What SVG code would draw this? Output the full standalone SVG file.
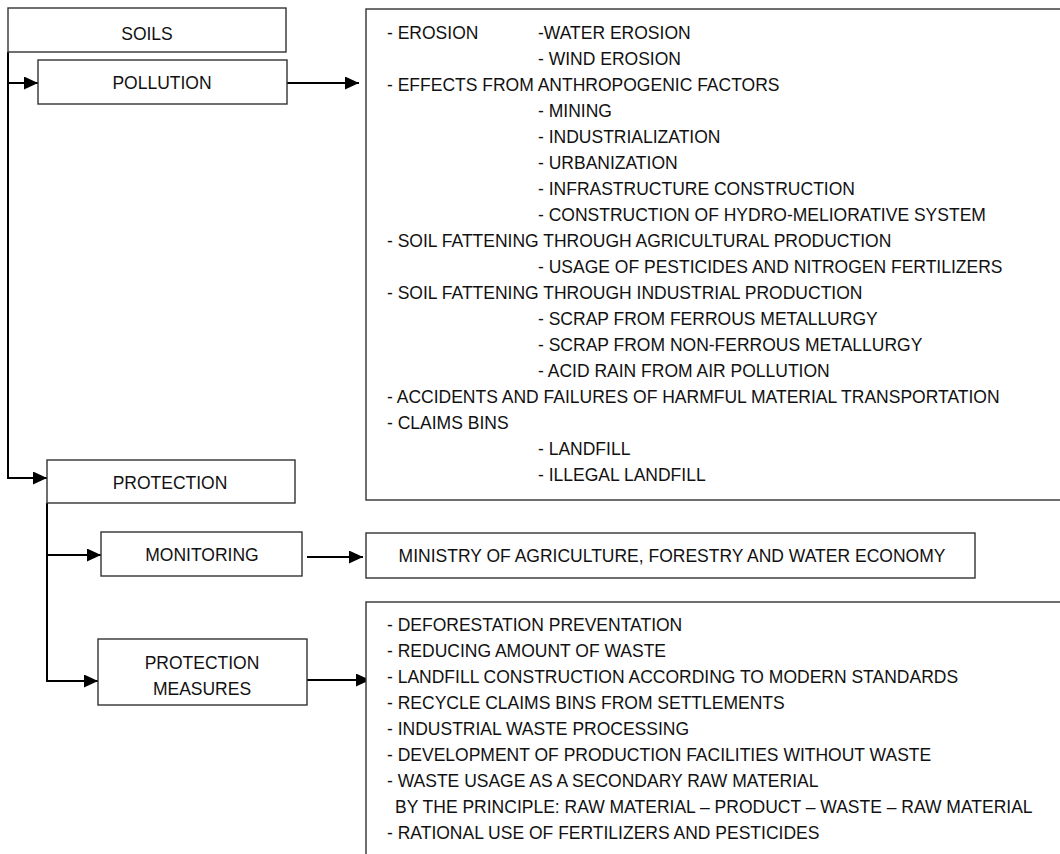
<svg xmlns="http://www.w3.org/2000/svg" width="1060" height="854" viewBox="0 0 1060 854">
<style>
.box{fill:#fff;stroke:#333;stroke-width:1.4}
.t{font-family:"Liberation Sans",Arial,sans-serif;font-size:17.5px;fill:#111}
.c{text-anchor:middle}
.con{fill:none;stroke:#000;stroke-width:2}
</style>
<defs>
<marker id="arr" viewBox="0 0 14 13" refX="14" refY="6.5" markerWidth="14" markerHeight="13" markerUnits="userSpaceOnUse" orient="auto">
<path d="M0,0 L14,6.5 L0,13 z" fill="#000"/>
</marker>
</defs>
<rect width="1060" height="854" fill="#fff"/>

<g id="connectors">
<path class="con" d="M8,52 V478 H47" marker-end="url(#arr)"/>
<path class="con" d="M8,83 H38" marker-end="url(#arr)"/>
<path class="con" d="M287,83 H359" marker-end="url(#arr)"/>
<path class="con" d="M47,503 V681 H98" marker-end="url(#arr)"/>
<path class="con" d="M47,555 H101" marker-end="url(#arr)"/>
<path class="con" d="M307,557 H363" marker-end="url(#arr)"/>
<path class="con" d="M307,680 H370" marker-end="url(#arr)"/>
</g>

<g id="soils">
<rect class="box" x="8" y="8" width="278" height="44"/>
<text class="t c" x="147" y="40">SOILS</text>
</g>

<g id="pollution">
<rect class="box" x="38" y="60" width="249" height="44"/>
<text class="t c" x="162" y="89">POLLUTION</text>
</g>

<g id="pollution-list">
<rect class="box" x="366" y="9" width="720" height="491"/>
<text class="t" x="387" y="39">- EROSION</text>
<text class="t" x="538" y="39">-WATER EROSION</text>
<text class="t" x="538" y="65">- WIND EROSION</text>
<text class="t" x="387" y="91">- EFFECTS FROM ANTHROPOGENIC FACTORS</text>
<text class="t" x="538" y="117">- MINING</text>
<text class="t" x="538" y="143">- INDUSTRIALIZATION</text>
<text class="t" x="538" y="169">- URBANIZATION</text>
<text class="t" x="538" y="195">- INFRASTRUCTURE CONSTRUCTION</text>
<text class="t" x="538" y="221">- CONSTRUCTION OF HYDRO-MELIORATIVE SYSTEM</text>
<text class="t" x="387" y="247">- SOIL FATTENING THROUGH AGRICULTURAL PRODUCTION</text>
<text class="t" x="538" y="273">- USAGE OF PESTICIDES AND NITROGEN FERTILIZERS</text>
<text class="t" x="387" y="299">- SOIL FATTENING THROUGH INDUSTRIAL PRODUCTION</text>
<text class="t" x="538" y="325">- SCRAP FROM FERROUS METALLURGY</text>
<text class="t" x="538" y="351">- SCRAP FROM NON-FERROUS METALLURGY</text>
<text class="t" x="538" y="377">- ACID RAIN FROM AIR POLLUTION</text>
<text class="t" x="387" y="403">- ACCIDENTS AND FAILURES OF HARMFUL MATERIAL TRANSPORTATION</text>
<text class="t" x="387" y="429">- CLAIMS BINS</text>
<text class="t" x="538" y="455">- LANDFILL</text>
<text class="t" x="538" y="481">- ILLEGAL LANDFILL</text>
</g>

<g id="protection">
<rect class="box" x="47" y="460" width="248" height="43"/>
<text class="t c" x="170" y="489">PROTECTION</text>
</g>

<g id="monitoring">
<rect class="box" x="101" y="532" width="201" height="44"/>
<text class="t c" x="202" y="561">MONITORING</text>
</g>

<g id="ministry">
<rect class="box" x="366" y="533" width="609" height="45"/>
<text class="t c" x="672" y="562">MINISTRY OF AGRICULTURE, FORESTRY AND WATER ECONOMY</text>
</g>

<g id="protection-measures">
<rect class="box" x="98" y="639" width="209" height="66"/>
<text class="t c" x="202" y="669">PROTECTION</text>
<text class="t c" x="202" y="695">MEASURES</text>
</g>

<g id="measures-list">
<rect class="box" x="366" y="602" width="720" height="300"/>
<text class="t" x="387" y="631">- DEFORESTATION PREVENTATION</text>
<text class="t" x="387" y="657">- REDUCING AMOUNT OF WASTE</text>
<text class="t" x="387" y="683">- LANDFILL CONSTRUCTION ACCORDING TO MODERN STANDARDS</text>
<text class="t" x="387" y="709">- RECYCLE CLAIMS BINS FROM SETTLEMENTS</text>
<text class="t" x="387" y="735">- INDUSTRIAL WASTE PROCESSING</text>
<text class="t" x="387" y="761">- DEVELOPMENT OF PRODUCTION FACILITIES WITHOUT WASTE</text>
<text class="t" x="387" y="787">- WASTE USAGE AS A SECONDARY RAW MATERIAL</text>
<text class="t" x="395" y="813">BY THE PRINCIPLE: RAW MATERIAL – PRODUCT – WASTE – RAW MATERIAL</text>
<text class="t" x="387" y="839">- RATIONAL USE OF FERTILIZERS AND PESTICIDES</text>
</g>
</svg>
